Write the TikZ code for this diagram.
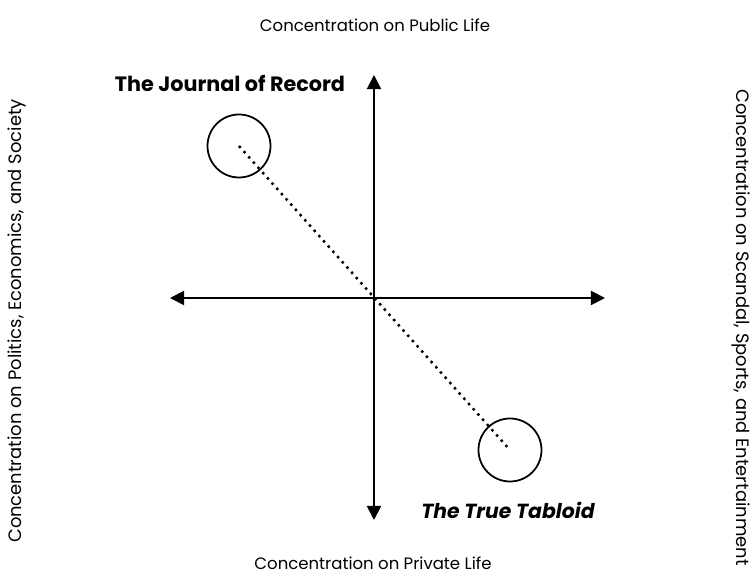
\documentclass[tikz,border=0pt]{standalone}
\usepackage{fontspec}
\setmainfont{Poppins}
\usetikzlibrary{arrows.meta, positioning}

\begin{document}
\begin{tikzpicture} [
                axis/.style={{Triangle[length=8pt,width=8pt]}-{Triangle[length=8pt,width=8pt]}, line width=1.1pt},
                spot/.style={draw, circle, line width=1pt, minimum size=1.26cm, inner sep=0pt},
                link/.style={line width=1.4pt, dash pattern=on 1.4pt off 2.6pt},
                side/.style={font=\fontsize{9.4}{11}\selectfont},
                edge/.style={font=\fontsize{10.2}{12}\selectfont},
                title/.style={font=\fontsize{11.8}{14}\selectfont\bfseries}
            ]
            \useasboundingbox (-7.48,-5.54) rectangle (7.56,5.96);

            % Axes
            \coordinate (top) at (0,4.46);
            \coordinate (bottom) at (0,-4.44);
            \coordinate (left) at (-4.08,0);
            \coordinate (right) at (4.62,0);
            \draw[axis] (bottom) -- (top);
            \draw[axis] (left) -- (right);

            % Axis labels
            \node[side] (public) at (0.02,5.46) {Concentration on Public Life};
            \node[side] (private) at (-0.02,-5.3) {Concentration on Private Life};
            \node[edge, rotate=90] (politics) at (-7.14,-0.46) {Concentration on Politics, Economics, and Society};
            \node[edge, rotate=-90, anchor=west] (scandal) at (7.34,4.30) {Concentration on Scandal, Sports, and Entertainment};

            % The two papers
            \node[spot] (journal) at (-2.70,3.04) {};
            \node[spot] (tabloid) at (2.72,-3.04) {};
            \node[title] (journalLbl) at (-2.88,4.30) {The Journal of Record};
            \node[title, font=\fontsize{11.6}{14}\selectfont\bfseries\itshape] (tabloidLbl) at (2.68,-4.24) {The True Tabloid};

            \draw[link] (journal.center) -- (tabloid.center);
        \end{tikzpicture}
\end{document}
